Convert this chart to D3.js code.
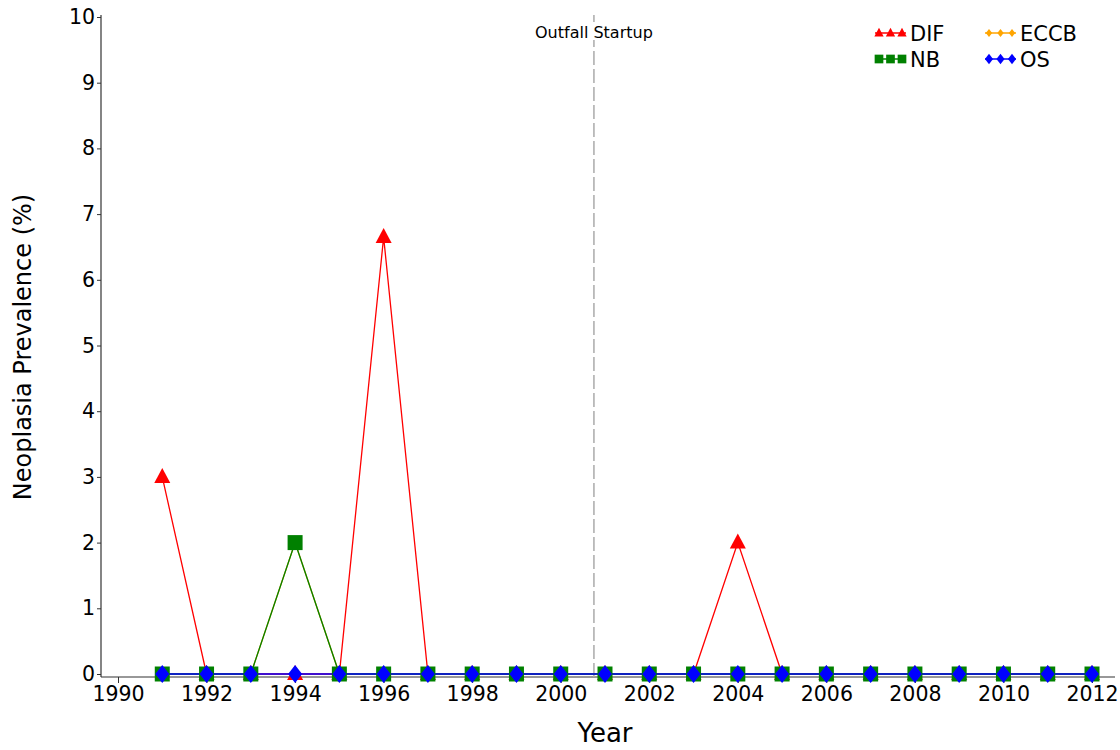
<!DOCTYPE html>
<html>
<head>
<meta charset="utf-8">
<script src="https://cdn.jsdelivr.net/npm/d3@7"></script>
<style>
  body { margin: 0; background: #fff; }
  svg { font-family: "DejaVu Sans", sans-serif; }
</style>
</head>
<body>
<div id="chart"></div>
<script>
// data
const years = d3.range(1991, 2013);
const difValues  = [3, 0, 0, 0, 0, 6.65, 0, 0, 0, 0, 0, 0, 0, 2, 0, 0, 0, 0, 0, 0, 0, 0];
const eccbValues = [0, 0, 0, 2, 0, 0, 0, 0, 0, 0, 0, 0, 0, 0, 0, 0, 0, 0, 0, 0, 0, 0];
const nbValues   = [0, 0, 0, 2, 0, 0, 0, 0, 0, 0, 0, 0, 0, 0, 0, 0, 0, 0, 0, 0, 0, 0];
const osValues   = [0, 0, 0, 0, 0, 0, 0, 0, 0, 0, 0, 0, 0, 0, 0, 0, 0, 0, 0, 0, 0, 0];
const xTicks = d3.range(1990, 2013, 2);
const yTicks = d3.range(0, 11, 1);
const outfallYear = 2000.75;

// marker shapes, drawn around (0,0); k scales them
const triangle = k => `M0,${-9 * k}L${8 * k},${6 * k}L${-8 * k},${6 * k}Z`;
const diamond = k => `M0,${-9 * k}L${7 * k},0L0,${9 * k}L${-7 * k},0Z`;
const square = k => `M${-7.5 * k},${-7.5 * k}h${15 * k}v${15 * k}h${-15 * k}Z`;

const series = [
  { name: 'DIF',  values: difValues,  color: 'red',    shape: triangle, k: 1 },
  { name: 'ECCB', values: eccbValues, color: 'orange', shape: diamond,  k: 0.7 },
  { name: 'NB',   values: nbValues,   color: 'green',  shape: square,   k: 1 },
  { name: 'OS',   values: osValues,   color: 'blue',   shape: diamond,  k: 1 }
];

const width = 1120, height = 750;
const margin = { top: 17, right: 5, bottom: 73, left: 101 };

const svg = d3.select('#chart').append('svg')
  .attr('width', width)
  .attr('height', height);

const x = d3.scaleLinear().domain([1990, 2012]).range([118, 1092]);
const y = d3.scaleLinear().domain([0, 10]).range([674, 17]);

// axes
const xAxisY = 677;
svg.append('line')
  .attr('x1', margin.left).attr('x2', 1115)
  .attr('y1', xAxisY).attr('y2', xAxisY)
  .attr('stroke', '#333').attr('stroke-width', 1.2);
svg.append('line')
  .attr('x1', margin.left).attr('x2', margin.left)
  .attr('y1', 15).attr('y2', xAxisY)
  .attr('stroke', '#333').attr('stroke-width', 1.2);

const xAxis = svg.append('g')
  .attr('transform', `translate(0,${xAxisY})`)
  .call(d3.axisBottom(x).tickValues(xTicks).tickFormat(d3.format('d')).tickSize(6).tickPadding(3));
xAxis.select('.domain').remove();
xAxis.selectAll('text').attr('font-size', 20.5).attr('fill', '#000').attr('font-family', '"DejaVu Sans", sans-serif');
xAxis.selectAll('line').attr('stroke', '#333');

const yAxis = svg.append('g')
  .attr('transform', `translate(${margin.left},0)`)
  .call(d3.axisLeft(y).tickValues(yTicks).tickSize(4).tickPadding(2));
yAxis.select('.domain').remove();
yAxis.selectAll('text').attr('font-size', 20.5).attr('fill', '#000').attr('font-family', '"DejaVu Sans", sans-serif');
yAxis.selectAll('line').attr('stroke', '#333');

svg.append('text')
  .attr('x', 605).attr('y', 742)
  .attr('text-anchor', 'middle')
  .attr('font-size', 26)
  .text('Year');

svg.append('text')
  .attr('transform', 'translate(31,347) rotate(-90)')
  .attr('text-anchor', 'middle')
  .attr('font-size', 24)
  .text('Neoplasia Prevalence (%)');

// outfall startup marker
svg.append('line')
  .attr('x1', x(outfallYear)).attr('x2', x(outfallYear))
  .attr('y1', 15).attr('y2', xAxisY)
  .attr('stroke', '#aaa').attr('stroke-width', 1.5)
  .attr('stroke-dasharray', '14,4');
svg.append('rect')
  .attr('x', x(outfallYear) - 4).attr('y', 22)
  .attr('width', 8).attr('height', 18)
  .attr('fill', '#fff');
svg.append('text')
  .attr('x', x(outfallYear)).attr('y', 38)
  .attr('text-anchor', 'middle')
  .attr('font-size', 16)
  .text('Outfall Startup');

// lines and markers
const line = d3.line()
  .x((d, i) => x(years[i]))
  .y(d => y(d));

series.forEach(s => {
  svg.append('path')
    .datum(s.values)
    .attr('fill', 'none')
    .attr('stroke', s.color)
    .attr('stroke-width', 1.3)
    .attr('d', line);
});

series.forEach(s => {
  svg.append('g').selectAll('path')
    .data(s.values)
    .join('path')
    .attr('transform', (d, i) => `translate(${x(years[i])},${y(d)})`)
    .attr('d', s.shape(s.k))
    .attr('fill', s.color);
});

// legend
const legendPos = [[875, 33], [985, 33], [875, 59], [985, 59]];
series.forEach((s, i) => {
  const [lx, ly] = legendPos[i];
  const g = svg.append('g').attr('transform', `translate(${lx},${ly})`);
  g.append('line')
    .attr('x1', 0).attr('x2', 31)
    .attr('stroke', s.color).attr('stroke-width', 1.5);
  [4, 15.5, 27].forEach(mx => {
    g.append('path')
      .attr('transform', `translate(${mx},0)`)
      .attr('d', s.shape(s.name === 'ECCB' ? 0.45 : 0.58))
      .attr('fill', s.color);
  });
  g.append('text')
    .attr('x', 35).attr('y', 8)
    .attr('font-size', 21)
    .text(s.name);
});
</script>
</body>
</html>
